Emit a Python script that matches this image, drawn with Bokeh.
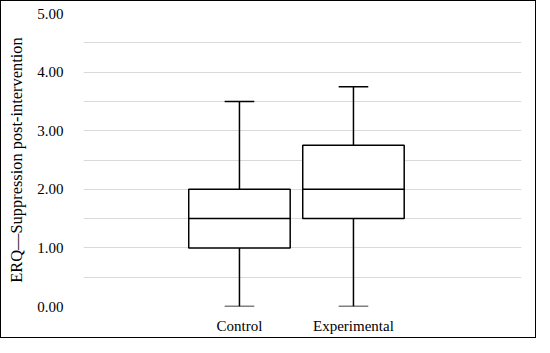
from bokeh.plotting import figure
from bokeh.models import FixedTicker, NumeralTickFormatter, Range1d
from bokeh.embed import file_html
from bokeh.resources import INLINE

# Data
groups = ["Control", "Experimental"]
xpos = [1, 2]
mins = [0.0, 0.0]
q1 = [1.0, 1.5]
medians = [1.5, 2.0]
q3 = [2.0, 2.75]
maxs = [3.5, 3.75]
y_ticks = [0, 1, 2, 3, 4, 5]
grid_ticks = [0, 0.5, 1, 1.5, 2, 2.5, 3, 3.5, 4, 4.5, 5]
y_label = "ERQ\u2014Suppression post-intervention"

FONT = "Liberation Serif"
BOX_W = 0.89
CAP_W = 0.26

p = figure(width=536, height=338, output_backend="svg", toolbar_location=None,
           x_range=Range1d(-0.368, 3.474), y_range=Range1d(0, 5),
           min_border_left=82, min_border_right=16, min_border_top=12, min_border_bottom=33)
p.styles = {"border": "1.5px solid #000000"}
p.outline_line_color = None
p.background_fill_color = "white"
p.border_fill_color = "white"

# whiskers
p.segment(x0=xpos, y0=q3, x1=xpos, y1=maxs, line_color="black", line_width=1.5)
p.segment(x0=xpos, y0=mins, x1=xpos, y1=q1, line_color="black", line_width=1.5)
# caps
p.segment(x0=[x - CAP_W / 2 for x in xpos], y0=maxs, x1=[x + CAP_W / 2 for x in xpos], y1=maxs,
          line_color="black", line_width=1.5)
p.segment(x0=[x - CAP_W / 2 for x in xpos], y0=mins, x1=[x + CAP_W / 2 for x in xpos], y1=mins,
          line_color="black", line_width=1.5)
# boxes
p.vbar(x=xpos, width=BOX_W, bottom=q1, top=q3, fill_color="white", line_color="black", line_width=1.5)
# medians
p.segment(x0=[x - BOX_W / 2 for x in xpos], y0=medians, x1=[x + BOX_W / 2 for x in xpos], y1=medians,
          line_color="black", line_width=1.5)

# axes
p.xaxis.ticker = FixedTicker(ticks=xpos)
p.xaxis.major_label_overrides = {x: g for x, g in zip(xpos, groups)}
p.yaxis.ticker = FixedTicker(ticks=y_ticks)
p.yaxis.formatter = NumeralTickFormatter(format="0.00")
for ax in (p.xaxis[0], p.yaxis[0]):
    ax.axis_line_color = None
    ax.major_tick_line_color = None
    ax.minor_tick_line_color = None
    ax.major_tick_out = 0
    ax.major_tick_in = 0
    ax.major_label_text_font = FONT
    ax.major_label_text_font_size = "15px"
    ax.major_label_text_color = "#000000"
p.xaxis.major_label_standoff = 11
p.yaxis.major_label_standoff = 20
p.yaxis.axis_label = y_label
p.yaxis.axis_label_text_font = FONT
p.yaxis.axis_label_text_font_size = "16.4px"
p.yaxis.axis_label_text_font_style = "normal"
p.yaxis.axis_label_text_color = "#000000"
p.yaxis.axis_label_standoff = 8

p.xgrid.grid_line_color = None
p.ygrid.ticker = FixedTicker(ticks=grid_ticks)
p.ygrid.grid_line_color = "#d9d9d9"
p.ygrid.grid_line_width = 1.2

open("out.html", "w").write(file_html(p, INLINE))
